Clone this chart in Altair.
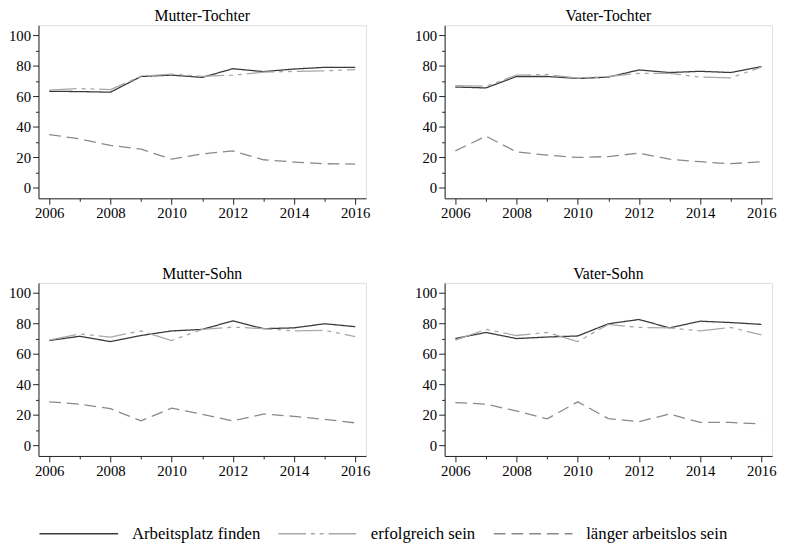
import altair as alt
import pandas as pd

years = list(range(2006, 2017))
panels = ["Mutter-Tochter", "Vater-Tochter", "Mutter-Sohn", "Vater-Sohn"]
series = ["Arbeitsplatz finden", "erfolgreich sein", "länger arbeitslos sein"]

# Mutter-Tochter
mt_arbeitsplatz = [63.2, 63.0, 62.6, 72.9, 73.8, 72.3, 78.0, 76.1, 77.8, 78.9, 78.9]
mt_erfolgreich = [63.9, 65.0, 64.3, 73.0, 74.4, 73.0, 73.8, 75.7, 76.3, 76.6, 77.4]
mt_arbeitslos = [34.8, 32.0, 27.7, 25.2, 18.7, 22.2, 24.1, 18.3, 16.8, 15.7, 15.5]

# Vater-Tochter
vt_arbeitsplatz = [66.0, 65.4, 72.9, 72.9, 71.6, 72.5, 77.2, 75.5, 76.3, 75.5, 79.4]
vt_erfolgreich = [66.9, 66.5, 73.8, 74.2, 71.8, 72.9, 75.0, 75.0, 72.5, 72.0, 79.0]
vt_arbeitslos = [24.1, 33.8, 23.4, 21.3, 19.8, 20.4, 22.6, 18.7, 17.0, 15.7, 17.0]

# Mutter-Sohn
ms_arbeitsplatz = [68.7, 71.5, 68.0, 72.0, 75.0, 76.0, 81.6, 76.5, 77.0, 79.7, 77.8]
ms_erfolgreich = [69.0, 73.0, 71.0, 75.0, 68.7, 76.0, 77.5, 76.5, 75.0, 75.4, 71.3]
ms_arbeitslos = [28.5, 27.0, 24.0, 16.0, 24.4, 20.3, 16.0, 20.5, 19.0, 17.0, 14.7]

# Vater-Sohn
vs_arbeitsplatz = [70.0, 74.0, 70.0, 71.0, 71.7, 79.7, 82.5, 77.0, 81.4, 80.5, 79.3]
vs_erfolgreich = [69.0, 76.0, 72.0, 74.0, 68.0, 79.3, 77.3, 77.0, 75.0, 77.3, 72.4]
vs_arbeitslos = [28.0, 27.0, 22.5, 17.3, 28.5, 17.5, 15.5, 20.5, 15.0, 15.0, 14.0]

panel_data = {
    "Mutter-Tochter": [mt_arbeitsplatz, mt_erfolgreich, mt_arbeitslos],
    "Vater-Tochter": [vt_arbeitsplatz, vt_erfolgreich, vt_arbeitslos],
    "Mutter-Sohn": [ms_arbeitsplatz, ms_erfolgreich, ms_arbeitslos],
    "Vater-Sohn": [vs_arbeitsplatz, vs_erfolgreich, vs_arbeitslos],
}

rows = []
for p in panels:
    for s, vals in zip(series, panel_data[p]):
        for y, v in zip(years, vals):
            rows.append({"panel": p, "serie": s, "jahr": y, "wert": v})
df = pd.DataFrame(rows)

FONT = "Liberation Serif, Times New Roman, serif"

color_scale = alt.Scale(domain=series, range=["#3a3a3a", "#a8a8a8", "#8a8a8a"])
dash_scale = alt.Scale(domain=series, range=[[1, 0], [28, 5, 4, 5, 4, 5], [12, 6]])

legend = alt.Legend(
    title=None,
    orient="bottom",
    direction="horizontal",
    offset=14,
    symbolType="stroke",
    symbolSize=6400,
    symbolStrokeWidth=1.5,
    labelFont=FONT,
    labelFontSize=17,
    labelColor="black",
    labelOffset=13,
    columnPadding=15,
    labelLimit=300,
)


def panel(name):
    return (
        alt.Chart(df[df.panel == name])
        .mark_line(strokeWidth=1.3)
        .encode(
            x=alt.X(
                "jahr:Q",
                scale=alt.Scale(domain=[2005.65, 2016.35], nice=False, zero=False),
                axis=alt.Axis(
                    title=None,
                    values=years,
                    format="d",
                    labelExpr="datum.value % 2 === 0 ? datum.label : ''",
                    tickSize={"condition": {"test": "datum.value % 2 === 0", "value": 6}, "value": 3},
                    grid=False,
                    labelFont=FONT,
                    labelFontSize=15,
                    labelColor="black",
                    labelPadding=2,
                    domainColor="#222222",
                    tickColor="#222222",
                ),
            ),
            y=alt.Y(
                "wert:Q",
                scale=alt.Scale(domain=[-7, 106.5], nice=False, zero=False),
                axis=alt.Axis(
                    title=None,
                    values=list(range(0, 101, 10)),
                    labelExpr="datum.value % 20 === 0 ? datum.label : ''",
                    tickSize={"condition": {"test": "datum.value % 20 === 0", "value": 6}, "value": 3},
                    grid=False,
                    labelFont=FONT,
                    labelFontSize=15,
                    labelColor="black",
                    labelPadding=2,
                    domainColor="#222222",
                    tickColor="#222222",
                ),
            ),
            color=alt.Color("serie:N", scale=color_scale, legend=legend, sort=series),
            strokeDash=alt.StrokeDash("serie:N", scale=dash_scale, legend=legend, sort=series),
            order=alt.Order("jahr:Q"),
        )
        .properties(
            width=333,
            height=176,
            title=alt.TitleParams(name, font=FONT, fontSize=16, fontWeight="normal", color="black", offset=1),
        )
    )


top = alt.hconcat(panel(panels[0]), panel(panels[1]), spacing=44)
bottom = alt.hconcat(panel(panels[2]), panel(panels[3]), spacing=44)
chart = (
    alt.vconcat(top, bottom, spacing=44)
    .properties(padding={"left": 0, "top": -5, "right": 0, "bottom": 0})
    .configure_view(stroke="#222222", strokeWidth=1.2)
    .configure(background="white")
)

chart.save("out.html", embed_options={"renderer": "svg", "actions": False})
